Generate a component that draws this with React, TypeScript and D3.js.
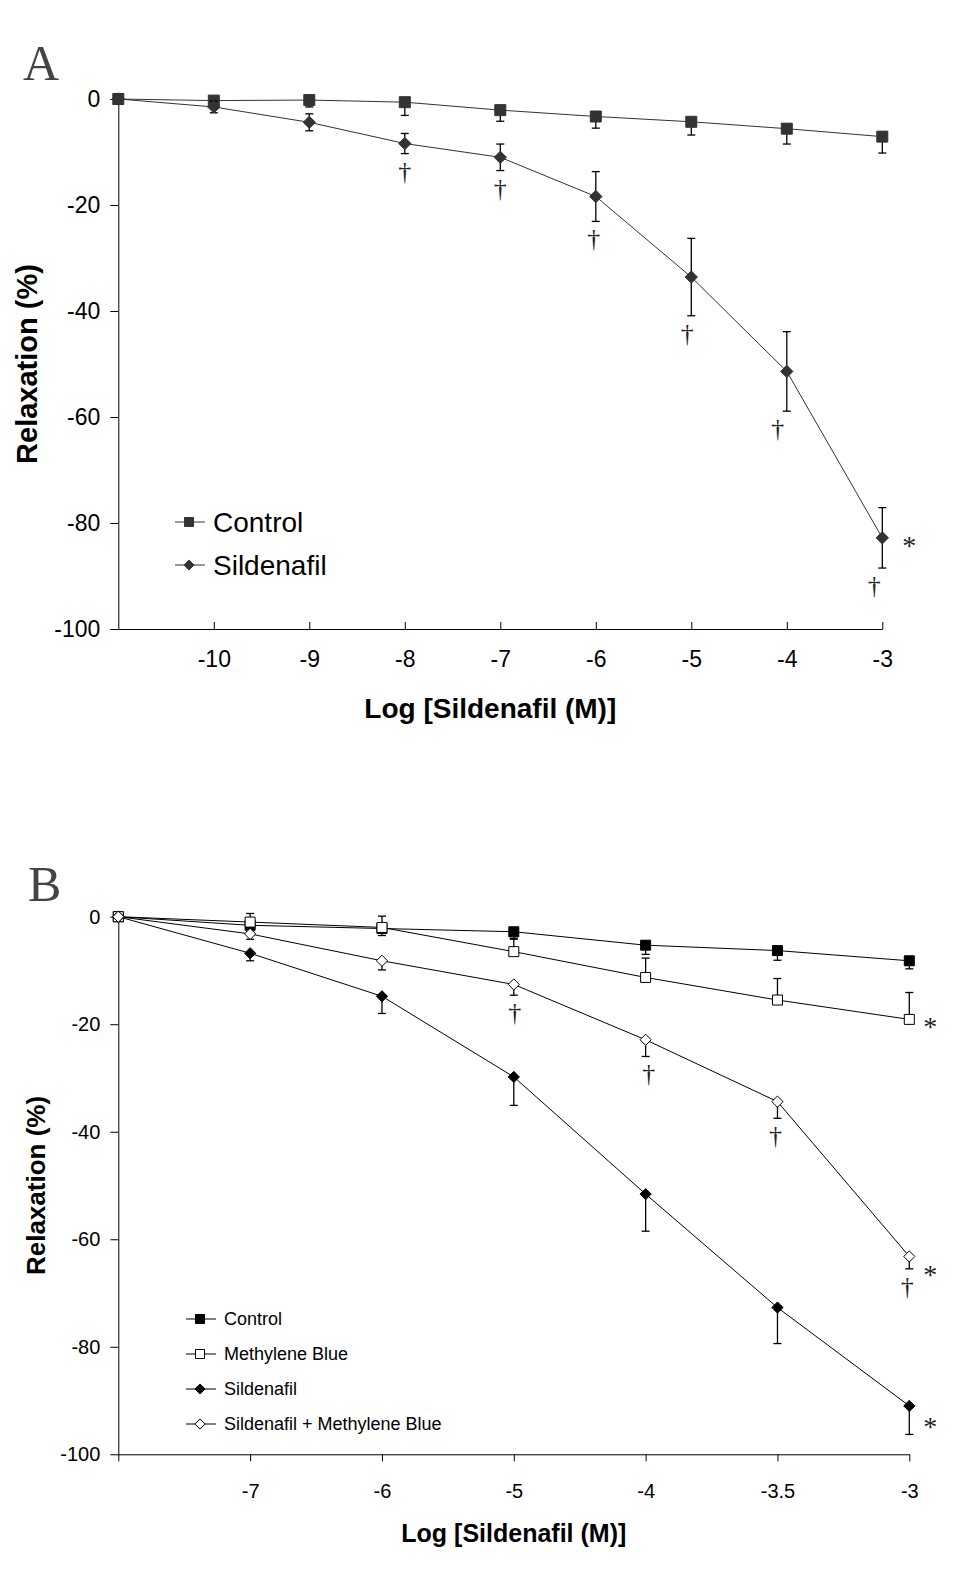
import { useEffect, useRef } from "react";
import * as d3 from "d3";

// ---- Panel A: sildenafil dose-response ----
const dosesA = ["base", "-10", "-9", "-8", "-7", "-6", "-5", "-4", "-3"];
const controlA = [0, -0.3, -0.2, -0.6, -2.1, -3.3, -4.3, -5.6, -7.1];
const controlErrA = [0, 0.8, 1.3, 2.5, 2.1, 2.2, 2.5, 2.9, 3.1];
const sildenafilA = [0, -1.5, -4.4, -8.4, -11.0, -18.4, -33.6, -51.4, -82.8];
const sildenafilErrA = [0, 1.1, 1.6, 1.9, 2.5, 4.7, 7.3, 7.5, 5.7];
const daggerDosesA = ["-8", "-7", "-6", "-5", "-4", "-3"];
const daggerShiftA = [0, 0, -2, -4, -9, -8];

// ---- Panel B: with methylene blue ----
const dosesB = ["base", "-7", "-6", "-5", "-4", "-3.5", "-3"];
const controlB = [0, -1.6, -2.2, -2.8, -5.3, -6.3, -8.2];
const controlErrB = [0, 1.2, 1.3, 1.4, 1.7, 1.8, 1.5];
const methyleneB = [0, -1.0, -2.0, -6.5, -11.3, -15.5, -19.1];
const methyleneErrB = [0, 1.6, 2.1, 2.5, 3.6, 4.0, 5.0];
const sildenafilB = [0, -6.8, -14.8, -29.8, -51.6, -72.7, -91.0];
const sildenafilErrB = [0, 1.4, 3.2, 5.3, 6.9, 6.7, 5.3];
const comboB = [0, -3.2, -8.2, -12.6, -22.9, -34.4, -63.2];
const comboErrB = [0, 1.0, 1.7, 2.0, 3.1, 3.1, 2.3];
const daggerDosesB = ["-5", "-4", "-3.5", "-3"];
const daggerShiftB = [1, 3, -2, -2];

const yTicks = [0, -20, -40, -60, -80, -100];

const SANS = "'Liberation Sans', Arial, sans-serif";
const SERIF = "'Liberation Serif', 'Times New Roman', serif";

type Series = {
  name: string;
  values: number[];
  errs: number[];
  errDir: "down" | "up" | "both";
  shape: "square" | "diamond";
  fill: string;
  stroke: string;
  star?: [number, number];
};

type Panel = {
  letter: string;
  letterPos: [number, number];
  doses: string[];
  xRange: [number, number];
  yRange: [number, number];
  tickFont: number;
  inward: boolean;
  tickPad: number;
  tickAtBase: boolean;
  series: Series[];
  size: number;
  lineColor: string;
  xTitleY: number;
  xTitleShift: number;
  xTitleFont: number;
  yTitleX: number;
  yTitleFont: number;
  dagger: { series: number; doses: string[]; shift: number[] };
  legend: { x: number; y: number; gap: number; font: number; size: number };
};

function markerPath(shape: string, s: number) {
  const r = s / 2;
  if (shape === "square") return `M${-r},${-r}h${s}v${s}h${-s}Z`;
  const d = r * 1.12;
  return `M0,${-d}L${d},0L0,${d}L${-d},0Z`;
}

function drawPanel(svg: d3.Selection<SVGSVGElement, unknown, null, undefined>, p: Panel) {
  const x = d3.scalePoint<string>().domain(p.doses).range(p.xRange);
  const y = d3.scaleLinear().domain([-100, 0]).range([p.yRange[1], p.yRange[0]]);
  const g = svg.append("g");

  // panel letter
  g.append("text")
    .attr("x", p.letterPos[0])
    .attr("y", p.letterPos[1])
    .attr("font-family", SERIF)
    .attr("font-size", 50)
    .attr("fill", "#444")
    .text(p.letter);

  // axes
  const yAx = g
    .append("g")
    .attr("transform", `translate(${p.xRange[0]},0)`)
    .call(
      d3
        .axisLeft(y)
        .tickValues(yTicks)
        .tickSize(8)
        .tickSizeOuter(0)
        .tickPadding(10)
        .tickFormat((d) => String(d))
    );
  yAx.attr("color", "#000").attr("font-family", SANS).attr("font-size", p.tickFont);

  const xTickVals = p.tickAtBase ? p.doses : p.doses.slice(1);
  const xAx = g
    .append("g")
    .attr("transform", `translate(0,${p.yRange[1]})`)
    .call(
      d3
        .axisBottom(x)
        .tickValues(xTickVals)
        .tickSize(p.inward ? -7 : 7)
        .tickSizeOuter(0)
        .tickPadding(p.tickPad)
        .tickFormat((d) => (d === "base" ? "" : d))
    );
  xAx.attr("color", "#000").attr("font-family", SANS).attr("font-size", p.tickFont);

  // titles
  g.append("text")
    .attr("x", (p.xRange[0] + p.xRange[1]) / 2 + p.xTitleShift)
    .attr("y", p.xTitleY)
    .attr("text-anchor", "middle")
    .attr("font-family", SANS)
    .attr("font-weight", "bold")
    .attr("font-size", p.xTitleFont)
    .attr("fill", "#000")
    .text("Log [Sildenafil (M)]");

  g.append("text")
    .attr("transform", `translate(${p.yTitleX},${(p.yRange[0] + p.yRange[1]) / 2}) rotate(-90)`)
    .attr("text-anchor", "middle")
    .attr("font-family", SANS)
    .attr("font-weight", "bold")
    .attr("font-size", p.yTitleFont)
    .attr("fill", "#000")
    .text("Relaxation (%)");

  const line = d3
    .line<number>()
    .x((_, i) => x(p.doses[i]) as number)
    .y((v) => y(v));

  p.series.forEach((s) => {
    const sg = g.append("g");
    sg.append("path")
      .datum(s.values)
      .attr("d", line)
      .attr("fill", "none")
      .attr("stroke", p.lineColor)
      .attr("stroke-width", 1);

    const cap = 4;
    s.values.forEach((v, i) => {
      const e = s.errs[i];
      if (!e) return;
      const cx = x(p.doses[i]) as number;
      const ends: number[] = [];
      if (s.errDir !== "up") ends.push(v - e);
      if (s.errDir !== "down") ends.push(v + e);
      ends.forEach((end) => {
        sg.append("line")
          .attr("x1", cx).attr("x2", cx)
          .attr("y1", y(v)).attr("y2", y(end))
          .attr("stroke", "#000").attr("stroke-width", 1.3);
        sg.append("line")
          .attr("x1", cx - cap).attr("x2", cx + cap)
          .attr("y1", y(end)).attr("y2", y(end))
          .attr("stroke", "#000").attr("stroke-width", 1.3);
      });
    });

    sg.selectAll("path.mk")
      .data(s.values)
      .join("path")
      .attr("class", "mk")
      .attr("transform", (v, i) => `translate(${x(p.doses[i])},${y(v)})`)
      .attr("d", markerPath(s.shape, p.size))
      .attr("fill", s.fill)
      .attr("stroke", s.stroke)
      .attr("stroke-width", 1);

    if (s.star) {
      const last = s.values.length - 1;
      const cy = y(s.values[last]) + s.star[1];
      g.append("text")
        .attr("x", (x(p.doses[last]) as number) + s.star[0])
        .attr("y", cy + 14)
        .attr("text-anchor", "middle")
        .attr("font-family", SERIF)
        .attr("font-size", 28)
        .attr("fill", "#222")
        .text("*");
    }
  });

  // daggers
  const ds = p.series[p.dagger.series];
  p.dagger.doses.forEach((d, k) => {
    const i = p.doses.indexOf(d);
    const lowest = ds.values[i] - ds.errs[i];
    g.append("text")
      .attr("x", (x(d) as number) + p.dagger.shift[k])
      .attr("y", y(lowest) + 19 + 7)
      .attr("text-anchor", "middle")
      .attr("font-family", SERIF)
      .attr("font-size", 26)
      .attr("fill", "#222")
      .text("\u2020");
  });

  // legend
  const L = p.legend;
  p.series.forEach((s, k) => {
    const ly = L.y + k * L.gap;
    g.append("line")
      .attr("x1", L.x).attr("x2", L.x + 30)
      .attr("y1", ly).attr("y2", ly)
      .attr("stroke", p.lineColor).attr("stroke-width", 1);
    g.append("path")
      .attr("transform", `translate(${L.x + 14},${ly})`)
      .attr("d", markerPath(s.shape, L.size))
      .attr("fill", s.fill)
      .attr("stroke", s.stroke);
    g.append("text")
      .attr("x", L.x + 38)
      .attr("y", ly + L.font * 0.36)
      .attr("font-family", SANS)
      .attr("font-size", L.font)
      .attr("fill", "#000")
      .text(s.name);
  });
}

export default function App() {
  const svgRef = useRef<SVGSVGElement>(null);

  useEffect(() => {
    if (!svgRef.current) return;
    const svg = d3.select(svgRef.current);
    svg.selectAll("*").remove();

    drawPanel(svg, {
      letter: "A",
      letterPos: [23, 80],
      doses: dosesA,
      xRange: [118.3, 882.3],
      yRange: [99, 629],
      tickFont: 23,
      inward: true,
      tickPad: 22,
      tickAtBase: false,
      size: 11,
      lineColor: "#333",
      series: [
        { name: "Control", values: controlA, errs: controlErrA, errDir: "down", shape: "square", fill: "#333", stroke: "#333" },
        { name: "Sildenafil", values: sildenafilA, errs: sildenafilErrA, errDir: "both", shape: "diamond", fill: "#333", stroke: "#333", star: [27, 3] },
      ],
      xTitleY: 718,
      xTitleShift: -10,
      xTitleFont: 28,
      yTitleX: 37,
      yTitleFont: 29,
      dagger: { series: 1, doses: daggerDosesA, shift: daggerShiftA },
      legend: { x: 175, y: 522, gap: 43, font: 28, size: 9 },
    });

    drawPanel(svg, {
      letter: "B",
      letterPos: [28, 901],
      doses: dosesB,
      xRange: [118.3, 909.3],
      yRange: [916.7, 1454.3],
      tickFont: 20,
      inward: false,
      tickPad: 23,
      tickAtBase: true,
      size: 10,
      lineColor: "#000",
      series: [
        { name: "Control", values: controlB, errs: controlErrB, errDir: "down", shape: "square", fill: "#000", stroke: "#000" },
        { name: "Methylene Blue", values: methyleneB, errs: methyleneErrB, errDir: "up", shape: "square", fill: "#fff", stroke: "#000", star: [21, 3] },
        { name: "Sildenafil", values: sildenafilB, errs: sildenafilErrB, errDir: "down", shape: "diamond", fill: "#000", stroke: "#000", star: [21, 16] },
        { name: "Sildenafil + Methylene Blue", values: comboB, errs: comboErrB, errDir: "down", shape: "diamond", fill: "#fff", stroke: "#000", star: [21, 14] },
      ],
      xTitleY: 1542,
      xTitleShift: 0,
      xTitleFont: 25,
      yTitleX: 45,
      yTitleFont: 26,
      dagger: { series: 3, doses: daggerDosesB, shift: daggerShiftB },
      legend: { x: 186, y: 1319, gap: 35, font: 18, size: 9 },
    });
  }, []);

  return (
    <svg
      ref={svgRef}
      width={960}
      height={1586}
      style={{ position: "absolute", left: 0, top: 0, background: "#fff" }}
    />
  );
}
